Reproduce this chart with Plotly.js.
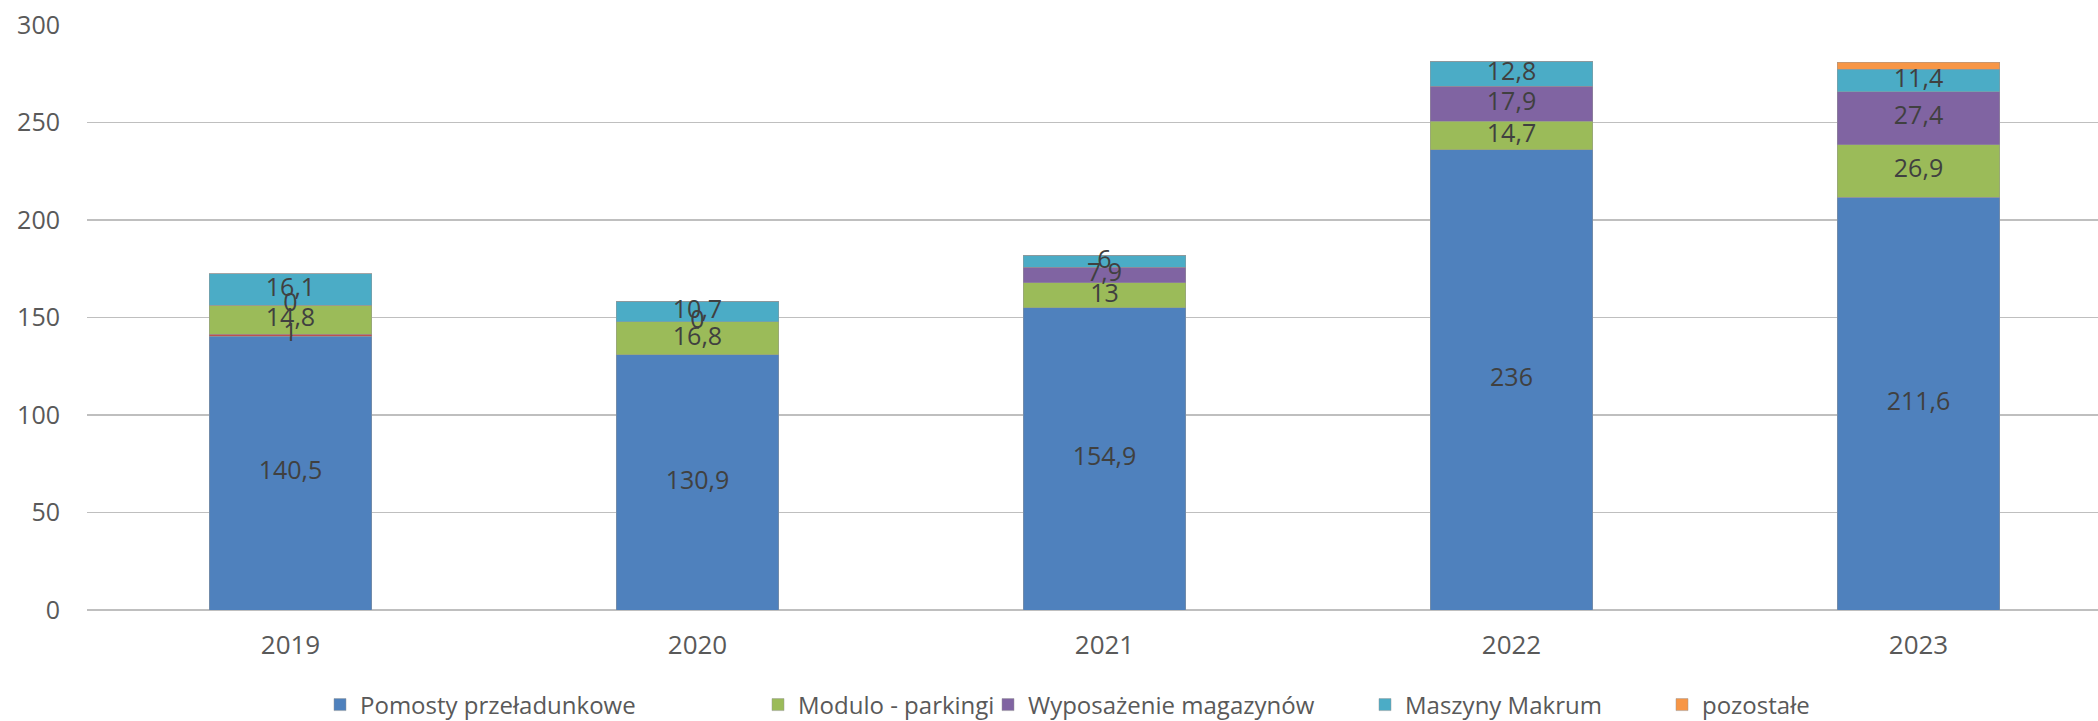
<!DOCTYPE html>
<html>
<head>
<meta charset="utf-8">
<script src="https://cdn.plot.ly/plotly-3.0.1.min.js"></script>
<style>html,body{margin:0;padding:0;background:#fff;}#chart{width:2098px;height:721px;}</style>
</head>
<body>
<div id="chart"></div>
<script>
const years = ['2019', '2020', '2021', '2022', '2023'];
const pomosty = [140.5, 130.9, 154.9, 236, 211.6];
const inne = [1, 0, 0, 0, 0];
const modulo = [14.8, 16.8, 13, 14.7, 26.9];
const wyposazenie = [0, 0, 7.9, 17.9, 27.4];
const maszyny = [16.1, 10.7, 6, 12.8, 11.4];
const pozostale = [0, 0, 0, 0, 3.6];

// data labels shown on the chart (null = no label)
const labelsPomosty = [140.5, 130.9, 154.9, 236, 211.6];
const labelsInne = [1, null, null, null, null];
const labelsModulo = [14.8, 16.8, 13, 14.7, 26.9];
const labelsWyposazenie = [0, 0, 7.9, 17.9, 27.4];
const labelsMaszyny = [16.1, 10.7, 6, 12.8, 11.4];
const labelsPozostale = [null, null, null, null, null];

const names = ['Pomosty przeładunkowe', '', 'Modulo - parkingi', 'Wyposażenie magazynów', 'Maszyny Makrum', 'pozostałe'];
const colors = ['#4F81BD', '#C0504D', '#9BBB59', '#8064A2', '#4BACC6', '#F79646'];
const series = [pomosty, inne, modulo, wyposazenie, maszyny, pozostale];
const labelSets = [labelsPomosty, labelsInne, labelsModulo, labelsWyposazenie, labelsMaszyny, labelsPozostale];
const legendIds = ['legend', null, 'legend2', 'legend3', 'legend4', 'legend5'];

const FONT = 'Open Sans, sans-serif';

const traces = series.map((vals, i) => ({
  type: 'bar',
  x: years,
  y: vals,
  name: names[i],
  marker: {color: colors[i], line: {color: 'rgba(150,150,150,0.6)', width: 0.8}},
  showlegend: legendIds[i] !== null,
  legend: legendIds[i] || 'legend',
  hoverinfo: 'skip'
}));

const fmt = v => String(v).replace('.', ',');
const cum = years.map(() => 0);
series.forEach((vals, i) => {
  const xs = [], ys = [], ts = [];
  vals.forEach((v, j) => {
    const mid = cum[j] + v / 2;
    cum[j] += v;
    const lab = labelSets[i][j];
    if (lab !== null && lab !== undefined) {
      xs.push(years[j]); ys.push(mid); ts.push(fmt(lab));
    }
  });
  if (xs.length) {
    traces.push({
      type: 'scatter', mode: 'text', x: xs, y: ys, text: ts,
      textposition: 'middle center',
      textfont: {family: FONT, size: 25, color: '#404040'},
      showlegend: false, hoverinfo: 'skip', cliponaxis: false
    });
  }
});

const legendFont = {family: FONT, size: 24, color: '#595959'};
const legendX = [320, 758, 988, 1365, 1662];
const mkLegend = px => ({
  orientation: 'h', xref: 'container', yref: 'container',
  x: px / 2098, y: 1 - 705 / 721, xanchor: 'left', yanchor: 'middle',
  font: legendFont, bgcolor: 'rgba(0,0,0,0)', borderwidth: 0, itemclick: false
});

const layout = {
  width: 2098, height: 721,
  margin: {l: 87, r: 0, t: 25, b: 111},
  paper_bgcolor: '#ffffff', plot_bgcolor: '#ffffff',
  barmode: 'stack', bargap: 0.6,
  separators: ', ',
  font: {family: FONT, color: '#595959'},
  xaxis: {
    type: 'category', range: [-0.5, 4.441],
    showgrid: false, showline: false, zeroline: false,
    ticks: '', tickfont: {size: 26, color: '#595959'},
    ticklabelstandoff: 17
  },
  yaxis: {
    range: [0, 300], tickvals: [0, 50, 100, 150, 200, 250, 300],
    showgrid: true, gridcolor: '#bfbfbf', gridwidth: 1.5,
    zeroline: true, zerolinecolor: '#bfbfbf', zerolinewidth: 1.5,
    showline: false, ticks: '', tickfont: {size: 25, color: '#595959'},
    ticklabelstandoff: 26
  },
  legend: mkLegend(legendX[0]),
  legend2: mkLegend(legendX[1]),
  legend3: mkLegend(legendX[2]),
  legend4: mkLegend(legendX[3]),
  legend5: mkLegend(legendX[4])
};

Plotly.newPlot('chart', traces, layout, {displayModeBar: false, staticPlot: true});
</script>
</body>
</html>
